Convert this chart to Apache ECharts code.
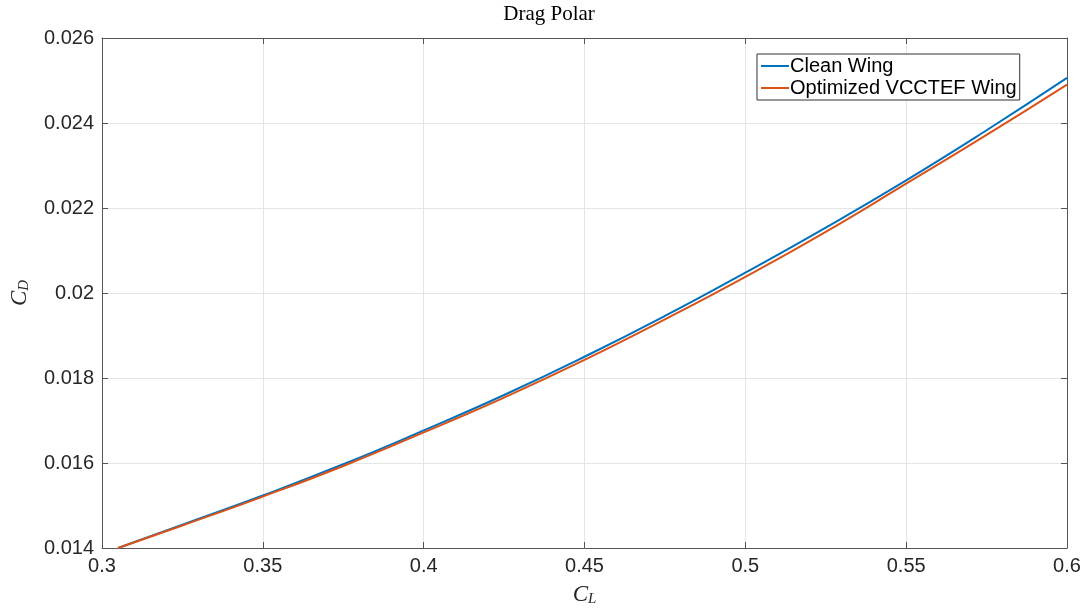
<!DOCTYPE html>
<html>
<head>
<meta charset="utf-8">
<script src="https://cdn.jsdelivr.net/npm/echarts@6/dist/echarts.min.js"></script>
<style>html,body{margin:0;padding:0;background:#fff}#c{width:1086px;height:612px}</style>
</head>
<body>
<div id="c"></div>
<script>
const seriesNames = ['Clean Wing', 'Optimized VCCTEF Wing'];
const cl = [0.305, 0.325, 0.35, 0.375, 0.4, 0.425, 0.45, 0.475, 0.5, 0.525, 0.55, 0.575, 0.6];
const cdClean = [0.01400, 0.01455, 0.015236, 0.01597, 0.016766, 0.01760, 0.01850, 0.01946, 0.02048, 0.02154, 0.022652, 0.02383, 0.025061];
const cdOpt   = [0.01400, 0.01453, 0.01521, 0.01593, 0.01672, 0.01754, 0.018426, 0.01938, 0.02038, 0.02144, 0.022573, 0.02372, 0.024905];
const xMin = 0.3, xMax = 0.6, xStep = 0.05;
const yMin = 0.014, yMax = 0.026, yStep = 0.002;

const chart = echarts.init(document.getElementById('c'));
const axisColor = '#555';
const labelStyle = {color: '#262626', fontSize: 20, fontFamily: 'Liberation Sans, Arial, sans-serif'};
const fmt = d => v => String(Number(v.toFixed(d)));

chart.setOption({
  animation: false,
  backgroundColor: '#fff',
  grid: {left: 100, top: 38, right: 19, bottom: 59, show: false},
  graphic: [{
    type: 'text', x: 549, y: 4,
    style: {text: 'Drag Polar', font: '21px "Liberation Serif", "DejaVu Serif", serif', fill: '#000', textAlign: 'center', textVerticalAlign: 'top'}
  }],
  legend: {
    left: 757, top: 54, orient: 'vertical',
    data: seriesNames,
    backgroundColor: '#fff', borderColor: '#333', borderWidth: 1,
    padding: [2, 3, 2, 4], itemGap: 2, itemWidth: 28, itemHeight: 2,
    icon: 'rect',
    textStyle: {color: '#000', fontSize: 20, fontFamily: 'Liberation Sans, Arial, sans-serif', padding: [0, 0, 0, -4]}
  },
  xAxis: [{
    type: 'value', min: xMin, max: xMax, interval: xStep,
    axisLine: {show: true, lineStyle: {color: axisColor, width: 1}},
    axisTick: {show: true, inside: true, length: 6, lineStyle: {color: axisColor}},
    axisLabel: Object.assign({margin: 8, formatter: fmt(2)}, labelStyle),
    splitLine: {show: true, lineStyle: {color: '#e5e5e5', width: 1}},
    name: '{i|C}{s|L}', nameLocation: 'middle', nameGap: 34,
    nameTextStyle: {rich: {
      i: {fontSize: 23, fontStyle: 'italic', fontFamily: 'Liberation Serif, serif', color: '#262626'},
      s: {fontSize: 15, fontStyle: 'italic', fontFamily: 'Liberation Serif, serif', color: '#262626', padding: [10, 0, 0, 0]}
    }}
  }, {
    type: 'value', position: 'top', min: xMin, max: xMax, interval: xStep,
    axisLine: {show: true, lineStyle: {color: axisColor, width: 1}},
    axisTick: {show: true, inside: true, length: 6, lineStyle: {color: axisColor}},
    axisLabel: {show: false}, splitLine: {show: false}
  }],
  yAxis: [{
    type: 'value', min: yMin, max: yMax, interval: yStep,
    axisLine: {show: true, lineStyle: {color: axisColor, width: 1}},
    axisTick: {show: true, inside: true, length: 6, lineStyle: {color: axisColor}},
    axisLabel: Object.assign({margin: 8, formatter: fmt(3)}, labelStyle),
    splitLine: {show: true, lineStyle: {color: '#e5e5e5', width: 1}},
    name: '{i|C}{s|D}', nameLocation: 'middle', nameGap: 70,
    nameTextStyle: {rich: {
      i: {fontSize: 23, fontStyle: 'italic', fontFamily: 'Liberation Serif, serif', color: '#262626'},
      s: {fontSize: 15, fontStyle: 'italic', fontFamily: 'Liberation Serif, serif', color: '#262626', padding: [10, 0, 0, 0]}
    }}
  }, {
    type: 'value', position: 'right', min: yMin, max: yMax, interval: yStep,
    axisLine: {show: true, lineStyle: {color: axisColor, width: 1}},
    axisTick: {show: true, inside: true, length: 6, lineStyle: {color: axisColor}},
    axisLabel: {show: false}, splitLine: {show: false}
  }],
  series: [{
    name: seriesNames[0], type: 'line', smooth: true, showSymbol: false, symbol: 'none',
    data: cl.map((x, i) => [x, cdClean[i]]),
    lineStyle: {color: '#0072BD', width: 2}, itemStyle: {color: '#0072BD'}
  }, {
    name: seriesNames[1], type: 'line', smooth: true, showSymbol: false, symbol: 'none',
    data: cl.map((x, i) => [x, cdOpt[i]]),
    lineStyle: {color: '#D95319', width: 2}, itemStyle: {color: '#D95319'}
  }]
});
</script>
</body>
</html>
